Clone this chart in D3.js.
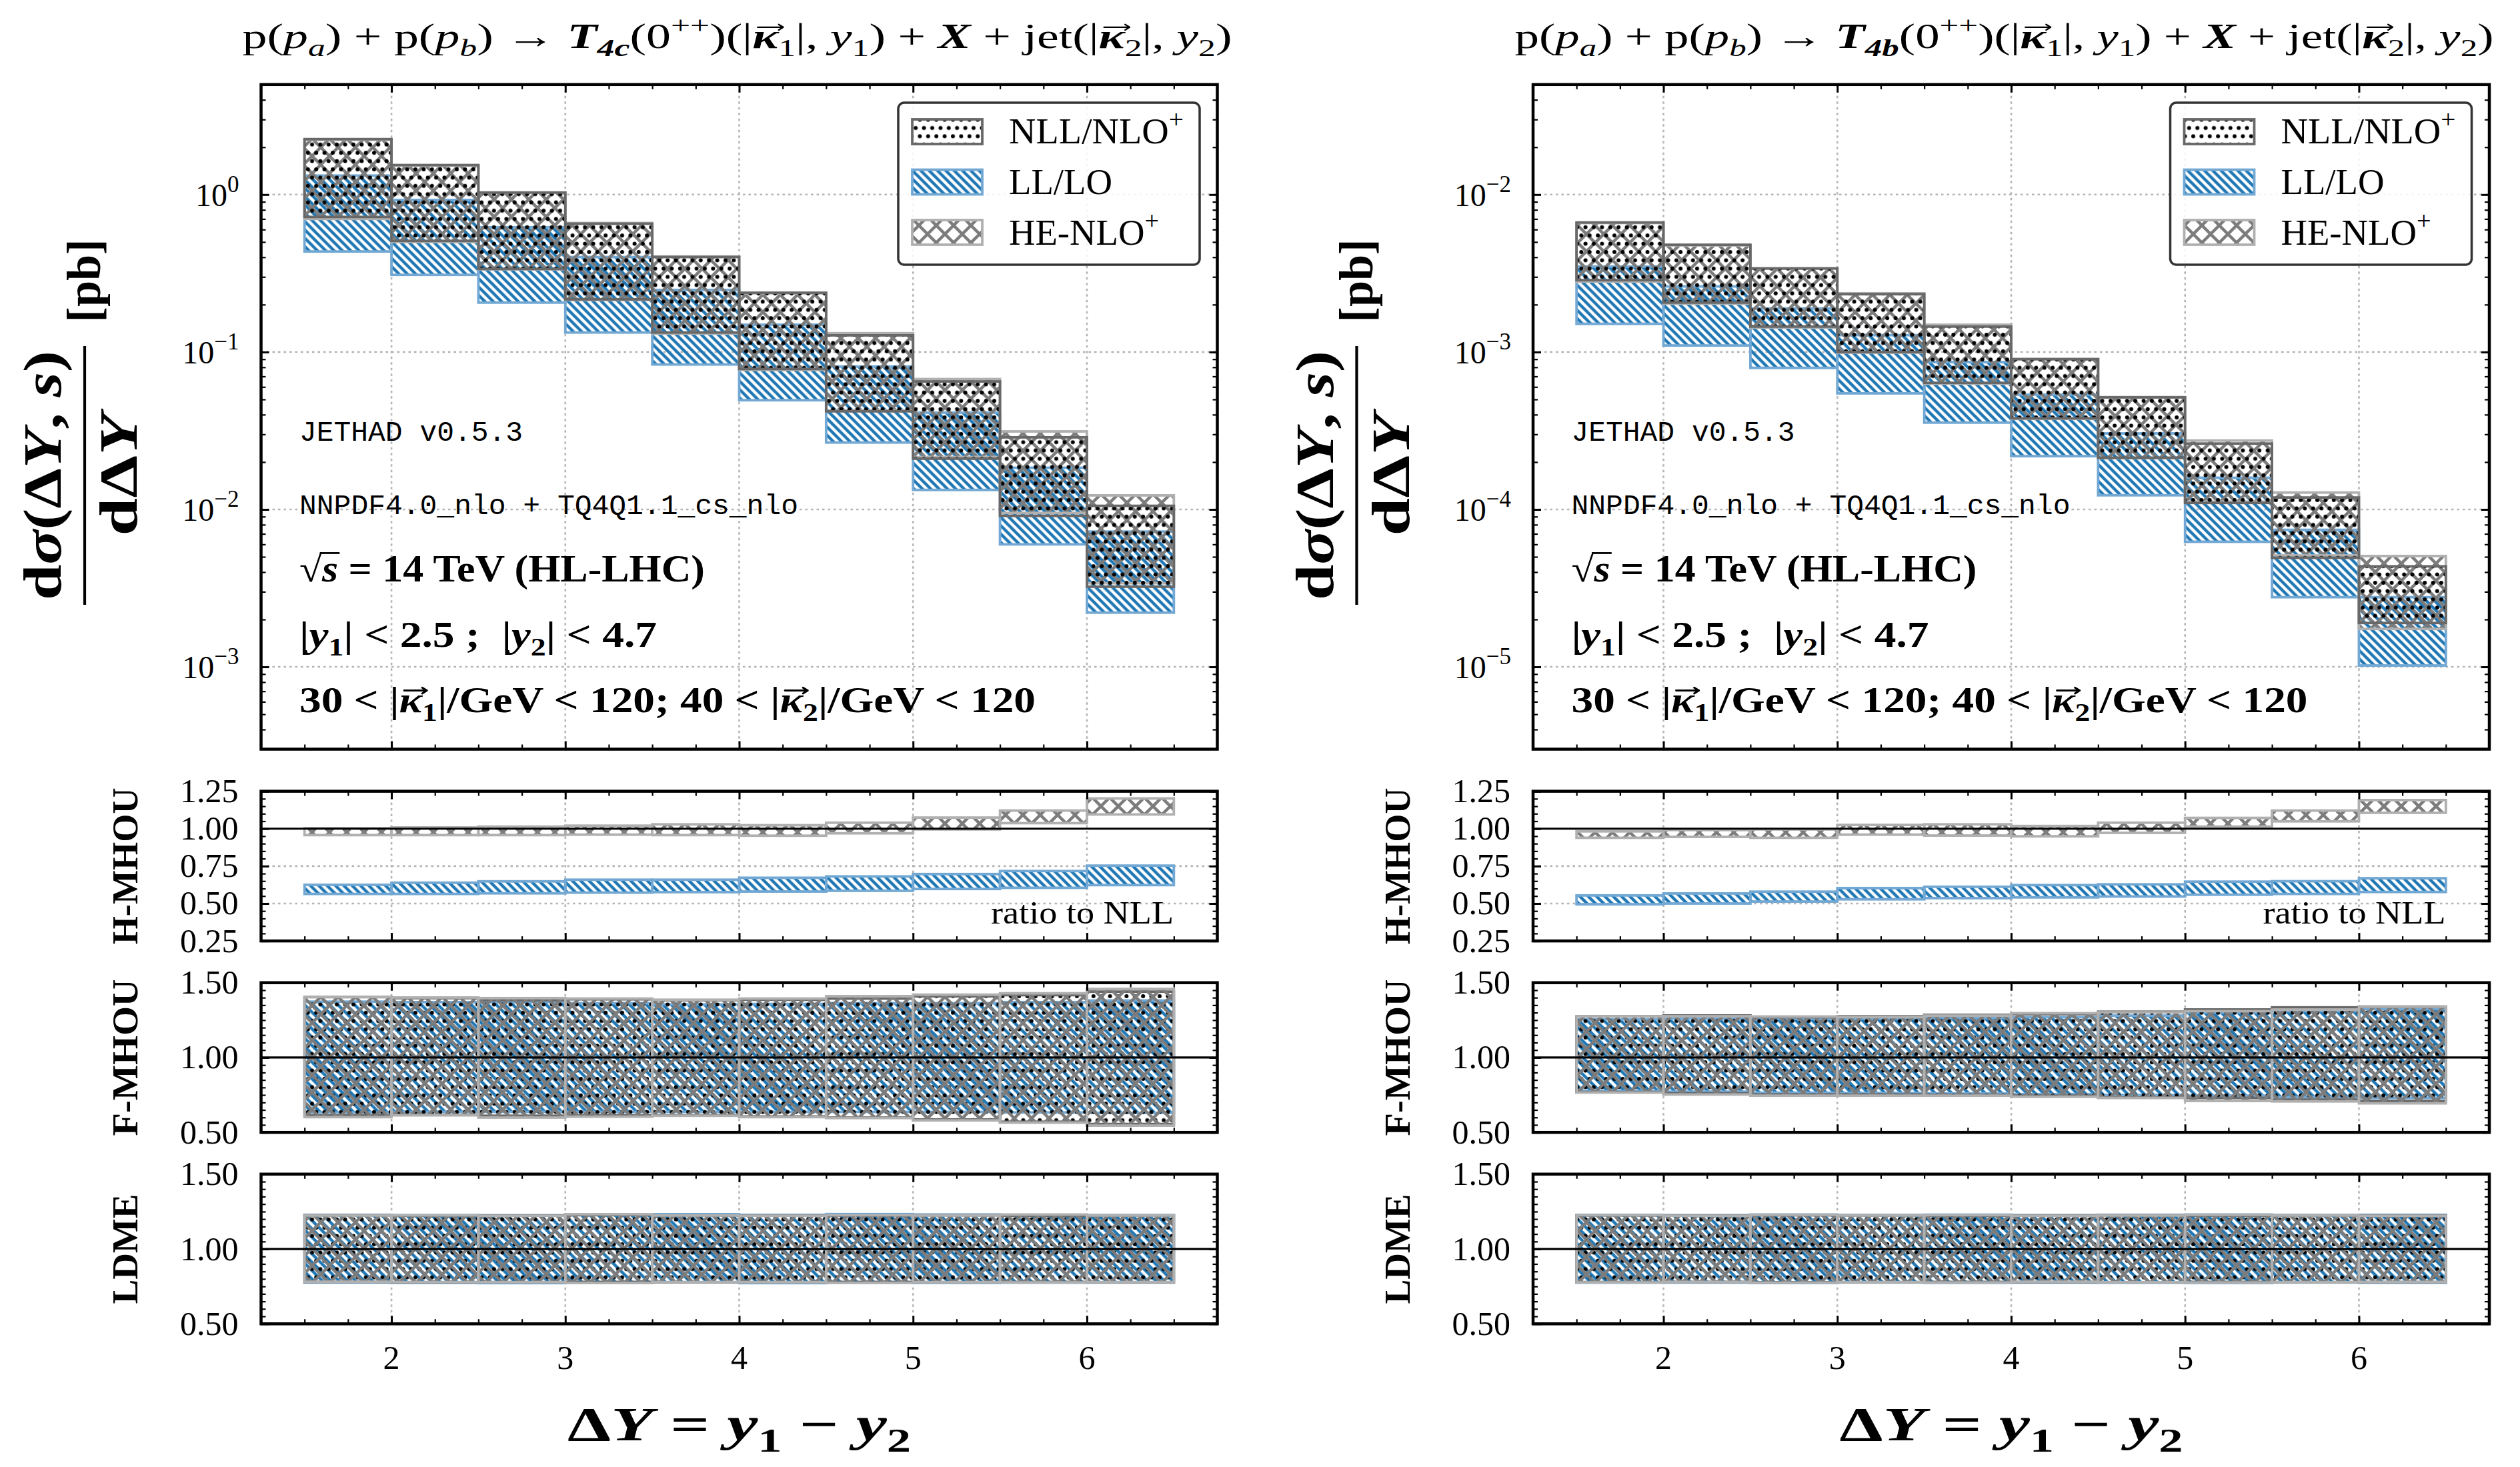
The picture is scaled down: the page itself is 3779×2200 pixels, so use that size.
<!DOCTYPE html>
<html><head><meta charset="utf-8">
<script src="https://cdn.jsdelivr.net/npm/d3@7"></script>
<style>html,body{margin:0;padding:0;background:#fff;} text{white-space:pre;}</style>
</head><body>
<svg id="chart" width="3779" height="2200" xmlns="http://www.w3.org/2000/svg"></svg>
<script>
// ---------------- DATA ----------------
const binStart = [1.5, 2.0, 2.5, 3.0, 3.5, 4.0, 4.5, 5.0, 5.5, 6.0];
const binWidth = 0.5;
const xTickValues = [2, 3, 4, 5, 6];
const xTickLabels = ["2", "3", "4", "5", "6"];
const legendNames = [["NLL/NLO", "+"], ["LL/LO", ""], ["HE-NLO", "+"]];

// T4c (left) main panel [pb]
const c_NLL_hi = [2.25, 1.54, 1.03, 0.653, 0.401, 0.238, 0.1276, 0.065, 0.0287, 0.01054];
const c_NLL_lo = [0.721, 0.508, 0.337, 0.216, 0.133, 0.078, 0.042, 0.0210, 0.0091, 0.00323];
const c_HE_hi  = [2.23, 1.53, 1.03, 0.66, 0.405, 0.236, 0.1316, 0.0673, 0.0313, 0.01228];
const c_HE_lo  = [0.70, 0.50, 0.335, 0.214, 0.131, 0.077, 0.0425, 0.0215, 0.0095, 0.0034];
const c_LL_hi  = [1.32, 0.925, 0.62, 0.401, 0.248, 0.149, 0.0809, 0.0412, 0.0184, 0.00723];
const c_LL_lo  = [0.435, 0.309, 0.206, 0.133, 0.0833, 0.0494, 0.0266, 0.0133, 0.0060, 0.00221];
// T4c H-MHOU (ratio to NLL)
const c_H_HE_hi = [1.003, 1.008, 1.014, 1.020, 1.029, 1.023, 1.040, 1.074, 1.121, 1.202];
const c_H_HE_lo = [0.957, 0.957, 0.957, 0.960, 0.957, 0.953, 0.969, 0.995, 1.037, 1.095];
const c_H_LL_hi = [0.625, 0.639, 0.648, 0.659, 0.659, 0.672, 0.681, 0.697, 0.717, 0.753];
const c_H_LL_lo = [0.564, 0.564, 0.568, 0.573, 0.576, 0.580, 0.585, 0.597, 0.605, 0.623];
// T4c F-MHOU
const c_F_NLL_hi = [1.404, 1.397, 1.383, 1.389, 1.383, 1.386, 1.394, 1.409, 1.417, 1.440];
const c_F_NLL_lo = [0.614, 0.617, 0.611, 0.614, 0.614, 0.606, 0.599, 0.586, 0.571, 0.556];
const c_F_HE_hi  = [1.404, 1.401, 1.397, 1.394, 1.386, 1.394, 1.410, 1.420, 1.429, 1.458];
const c_F_HE_lo  = [0.602, 0.614, 0.599, 0.605, 0.611, 0.602, 0.596, 0.580, 0.565, 0.545];
const c_F_LL_hi  = [1.373, 1.370, 1.370, 1.363, 1.355, 1.358, 1.363, 1.363, 1.370, 1.381];
const c_F_LL_lo  = [0.633, 0.637, 0.637, 0.637, 0.637, 0.637, 0.637, 0.637, 0.633, 0.630];
// T4c LDME
const c_L_NLL_hi = [1.225, 1.222, 1.224, 1.226, 1.224, 1.223, 1.224, 1.225, 1.222, 1.224];
const c_L_NLL_lo = [0.780, 0.778, 0.779, 0.780, 0.778, 0.779, 0.780, 0.779, 0.780, 0.778];
const c_L_HE_hi  = [1.224, 1.225, 1.222, 1.232, 1.224, 1.222, 1.226, 1.224, 1.230, 1.224];
const c_L_HE_lo  = [0.781, 0.779, 0.778, 0.773, 0.779, 0.778, 0.774, 0.778, 0.777, 0.779];
const c_L_LL_hi  = [1.228, 1.226, 1.225, 1.230, 1.232, 1.228, 1.233, 1.230, 1.228, 1.226];
const c_L_LL_lo  = [0.776, 0.774, 0.772, 0.775, 0.778, 0.772, 0.775, 0.774, 0.775, 0.776];

// T4b (right) main panel [pb]
const b_NLL_hi = [6.65e-3, 4.80e-3, 3.40e-3, 2.33e-3, 1.45e-3, 9.0e-4, 5.15e-4, 2.62e-4, 1.19e-4, 4.35e-5];
const b_NLL_lo = [2.86e-3, 2.06e-3, 1.45e-3, 1.0e-3, 6.37e-4, 3.79e-4, 2.13e-4, 1.10e-4, 4.93e-5, 1.90e-5];
const b_HE_hi  = [6.60e-3, 4.76e-3, 3.38e-3, 2.36e-3, 1.49e-3, 9.03e-4, 5.17e-4, 2.74e-4, 1.28e-4, 5.06e-5];
const b_HE_lo  = [2.80e-3, 2.03e-3, 1.43e-3, 9.9e-4, 6.30e-4, 3.76e-4, 2.12e-4, 1.12e-4, 5.10e-5, 1.74e-5];
const b_LL_hi  = [3.49e-3, 2.61e-3, 1.89e-3, 1.28e-3, 8.63e-4, 5.36e-4, 3.04e-4, 1.59e-4, 7.42e-5, 2.77e-5];
const b_LL_lo  = [1.51e-3, 1.10e-3, 7.93e-4, 5.46e-4, 3.56e-4, 2.18e-4, 1.23e-4, 6.23e-5, 2.77e-5, 1.02e-5];
// T4b H-MHOU
const b_H_HE_hi = [0.982, 0.991, 0.995, 1.025, 1.029, 1.018, 1.040, 1.072, 1.121, 1.191];
const b_H_HE_lo = [0.939, 0.945, 0.939, 0.960, 0.954, 0.949, 0.972, 1.014, 1.049, 1.106];
const b_H_LL_hi = [0.554, 0.567, 0.579, 0.603, 0.612, 0.623, 0.628, 0.646, 0.649, 0.669];
const b_H_LL_lo = [0.495, 0.500, 0.513, 0.528, 0.536, 0.541, 0.547, 0.559, 0.564, 0.577];
// T4b F-MHOU
const b_F_NLL_hi = [1.275, 1.281, 1.270, 1.275, 1.285, 1.290, 1.306, 1.321, 1.335, 1.340];
const b_F_NLL_lo = [0.769, 0.761, 0.753, 0.753, 0.750, 0.745, 0.733, 0.730, 0.719, 0.710];
const b_F_HE_hi  = [1.275, 1.276, 1.274, 1.270, 1.280, 1.296, 1.302, 1.310, 1.320, 1.340];
const b_F_HE_lo  = [0.766, 0.753, 0.745, 0.745, 0.745, 0.738, 0.730, 0.710, 0.707, 0.694];
const b_F_LL_hi  = [1.255, 1.260, 1.258, 1.260, 1.265, 1.270, 1.280, 1.300, 1.310, 1.324];
const b_F_LL_lo  = [0.776, 0.772, 0.765, 0.763, 0.760, 0.756, 0.750, 0.745, 0.735, 0.730];
// T4b LDME
const b_L_NLL_hi = [1.224, 1.223, 1.225, 1.224, 1.222, 1.224, 1.225, 1.223, 1.224, 1.224];
const b_L_NLL_lo = [0.779, 0.780, 0.778, 0.779, 0.780, 0.779, 0.778, 0.780, 0.779, 0.779];
const b_L_HE_hi  = [1.226, 1.222, 1.228, 1.224, 1.226, 1.222, 1.224, 1.228, 1.224, 1.222];
const b_L_HE_lo  = [0.777, 0.780, 0.775, 0.778, 0.776, 0.781, 0.778, 0.776, 0.778, 0.780];
const b_L_LL_hi  = [1.228, 1.226, 1.230, 1.227, 1.229, 1.226, 1.228, 1.230, 1.227, 1.228];
const b_L_LL_lo  = [0.775, 0.776, 0.773, 0.776, 0.774, 0.776, 0.775, 0.773, 0.776, 0.775];

// ---------------- STYLE / LAYOUT ----------------
const SERIF = "'Liberation Serif', 'DejaVu Serif', serif";
const MONO = "'Liberation Mono', 'DejaVu Sans Mono', monospace";
const STY = {
  NLL: {fill: "url(#pDots)", stroke: "#686868"},
  LL:  {fill: "url(#pHatch)", stroke: "#72a8d3"},
  HE:  {fill: "url(#pCross)", stroke: "#b0b0b0"}
};
const MAIN = {top: 126.8, bottom: 1123.5};
const RH = {top: 1186.6, bottom: 1411.1};
const RF = {top: 1473.7, bottom: 1698.2};
const RL = {top: 1760.8, bottom: 1985.3};

const svg = d3.select("#chart");
svg.append("rect").attr("width", 3779).attr("height", 2200).attr("fill", "#fff");
const defs = svg.append("defs");
function pat(id, w, h, build) {
  const p = defs.append("pattern").attr("id", id).attr("patternUnits", "userSpaceOnUse")
    .attr("width", w).attr("height", h);
  build(p);
}
pat("pDots", 12.4, 24.8, p => {
  p.append("circle").attr("cx", 3).attr("cy", 6).attr("r", 3.0).attr("fill", "#000");
  p.append("circle").attr("cx", 9.2).attr("cy", 18.4).attr("r", 3.0).attr("fill", "#000");
});
pat("pHatch", 12.5, 12.5, p => {
  p.append("path").attr("d", "M0,0 L12.5,12.5 M-3,9.5 L3,15.5 M9.5,-3 L15.5,3")
    .attr("stroke", "#1f77b4").attr("stroke-width", 4.5);
});
pat("pCross", 26, 26, p => {
  p.append("path").attr("d", "M0,0 L26,26 M-3,23 L3,29 M23,-3 L29,3 M0,26 L26,0 M-3,3 L3,-3 M23,29 L29,23")
    .attr("stroke", "#7c7c7c").attr("stroke-width", 4.5);
});

function seg(arr) {
  return arr.map(([t, f = ""]) => ({t, i: f.includes("i"), b: f.includes("b"), sub: f.includes("_"), sup: f.includes("^"), o: f.includes("o"), v: f.includes("v")}));
}
function rich(textSel, segs, size) {
  let cur = 0;
  segs.forEach(s => {
    let off = 0, sc = 1;
    if (s.sub) { off = 0.24 * size; sc = 0.7; }
    if (s.sup) { off = -0.42 * size; sc = 0.7; }
    const ts = textSel.append("tspan").attr("dy", (off - cur).toFixed(2)).attr("font-size", size * sc).text(s.t);
    cur = off;
    if (s.i) ts.attr("font-style", "italic");
    if (s.b) ts.attr("font-weight", "bold");
    if (s.o) ts.classed("ovl", true);
    if (s.v) ts.classed("vec", true);
  });
  return textSel;
}
function txt(x, y, opts) {
  const t = svg.append("text").attr("x", x).attr("y", y)
    .attr("font-family", opts.family || SERIF).attr("font-size", opts.size)
    .attr("text-anchor", opts.anchor || "start").attr("fill", "#000");
  if (opts.bold) t.attr("font-weight", "bold");
  if (opts.rotate) t.attr("transform", `rotate(-90)`);
  if (opts.segs) rich(t, seg(opts.segs), opts.size); else t.text(opts.text);
  if (opts.len) t.attr("textLength", opts.len).attr("lengthAdjust", "spacingAndGlyphs");
  const size = opts.size;
  t.selectAll("tspan.vec").each(function () {
    const b = this.getBBox();
    const ya = y - 0.6 * size;
    const x1 = b.x + 0.12 * b.width + 0.06 * size, x2 = b.x + b.width + 0.1 * size;
    const h = 0.1 * size;
    svg.append("path").attr("d", `M${x1},${ya} L${x2},${ya} M${x2 - h * 1.3},${ya - h * 0.8} L${x2},${ya} L${x2 - h * 1.3},${ya + h * 0.8}`)
      .attr("fill", "none").attr("stroke", "#000").attr("stroke-width", (opts.bold ? 0.055 : 0.045) * size)
      .attr("stroke-linecap", "round").attr("stroke-linejoin", "round");
  });
  t.selectAll("tspan.ovl").each(function () {
    const b = this.getBBox();
    const yo = y - 0.76 * size;
    svg.append("line").attr("x1", b.x - 0.04 * size).attr("x2", b.x + b.width + 0.04 * size).attr("y1", yo).attr("y2", yo)
      .attr("stroke", "#000").attr("stroke-width", 0.05 * size);
  });
  return t;
}

function tickAxis(g, scale, orient, values, len, width, tr) {
  const gen = {left: d3.axisLeft, right: d3.axisRight, top: d3.axisTop, bottom: d3.axisBottom}[orient];
  const a = g.append("g").attr("transform", tr).call(gen(scale).tickValues(values).tickSize(-len).tickFormat(""));
  a.select(".domain").remove();
  a.selectAll("line").attr("stroke", "#000").attr("stroke-width", width);
}

function drawPanel(o) {
  const g = svg.append("g");
  const x = d3.scaleLinear().domain([1.25, 6.75]).range([o.left, o.right]);
  const y = o.log ? d3.scaleLog().domain(o.ydom).range([o.bottom, o.top])
                  : d3.scaleLinear().domain(o.ydom).range([o.bottom, o.top]);
  const clipId = "clip" + Math.round(o.left) + "_" + Math.round(o.top);
  defs.append("clipPath").attr("id", clipId).append("rect")
    .attr("x", o.left).attr("y", o.top).attr("width", o.right - o.left).attr("height", o.bottom - o.top);
  const inner = g.append("g").attr("clip-path", `url(#${clipId})`);
  inner.append("g").selectAll("line").data(xTickValues).join("line")
    .attr("x1", d => x(d)).attr("x2", d => x(d)).attr("y1", o.top).attr("y2", o.bottom)
    .attr("stroke", "#b4b4b4").attr("stroke-width", 2.6).attr("stroke-dasharray", "3.5,5");
  inner.append("g").selectAll("line").data(o.yGrid).join("line")
    .attr("x1", o.left).attr("x2", o.right).attr("y1", d => y(d)).attr("y2", d => y(d))
    .attr("stroke", "#b4b4b4").attr("stroke-width", 2.6).attr("stroke-dasharray", "3.5,5");
  o.bands.forEach(b => {
    const rows = binStart.map((s, i) => ({s, lo: b.lo[i], hi: b.hi[i]}));
    inner.append("g").selectAll("rect").data(rows).join("rect")
      .attr("x", d => x(d.s)).attr("width", d => x(d.s + binWidth) - x(d.s))
      .attr("y", d => y(d.hi)).attr("height", d => y(d.lo) - y(d.hi))
      .attr("fill", STY[b.k].fill).attr("stroke", STY[b.k].stroke).attr("stroke-width", 3.8);
  });
  if (o.unity) inner.append("line").attr("x1", o.left).attr("x2", o.right)
    .attr("y1", y(1)).attr("y2", y(1)).attr("stroke", "#000").attr("stroke-width", 3.2);
  const xMinor = d3.range(1.5, 6.51, 0.25).filter(v => Math.abs(v - Math.round(v)) > 1e-6);
  tickAxis(g, x, "bottom", xTickValues, 12, 3, `translate(0,${o.bottom})`);
  tickAxis(g, x, "bottom", xMinor, 7, 2.2, `translate(0,${o.bottom})`);
  tickAxis(g, x, "top", xTickValues, 12, 3, `translate(0,${o.top})`);
  tickAxis(g, x, "top", xMinor, 7, 2.2, `translate(0,${o.top})`);
  tickAxis(g, y, "left", o.yMajor, 12, 3, `translate(${o.left},0)`);
  tickAxis(g, y, "left", o.yMinor, 7, 2.2, `translate(${o.left},0)`);
  tickAxis(g, y, "right", o.yMajor, 12, 3, `translate(${o.right},0)`);
  tickAxis(g, y, "right", o.yMinor, 7, 2.2, `translate(${o.right},0)`);
  g.append("rect").attr("x", o.left).attr("y", o.top).attr("width", o.right - o.left)
    .attr("height", o.bottom - o.top).attr("fill", "none").attr("stroke", "#000").attr("stroke-width", 4.5);
  if (o.log) {
    o.yMajor.forEach(v => {
      const e = Math.round(Math.log10(v));
      const t = g.append("text").attr("x", o.left - 33).attr("y", y(v) + 17).attr("text-anchor", "end")
        .attr("font-family", SERIF).attr("font-size", 48);
      t.append("tspan").text("10");
      t.append("tspan").attr("dy", -21).attr("font-size", 35).text(e === 0 ? "0" : "\u2212" + Math.abs(e));
    });
  } else {
    o.yMajor.forEach(v => {
      g.append("text").attr("x", o.left - 34).attr("y", y(v) + 16.5).attr("text-anchor", "end")
        .attr("font-family", SERIF).attr("font-size", 50).text(d3.format(".2f")(v));
    });
  }
  return {x, y, g};
}

function logMinor(d0, d1) {
  const out = [];
  for (let k = -7; k <= 2; k++) for (let m = 2; m <= 9; m++) {
    const v = m * Math.pow(10, k);
    if (v > d0 * 1.0001 && v < d1 * 0.9999) out.push(v);
  }
  return out;
}
const ratioMinorH = d3.range(0.30, 1.25, 0.05).filter(v => Math.abs(v * 4 - Math.round(v * 4)) > 1e-6);
const ratioMinorF = d3.range(0.55, 1.5, 0.05).filter(v => Math.abs(v * 2 - Math.round(v * 2)) > 1e-6);

function drawColumn(P) {
  const {left, right, dx} = P;
  drawPanel({left, right, top: MAIN.top, bottom: MAIN.bottom, log: true, ydom: P.mainDom,
    yMajor: P.decades, yMinor: logMinor(P.mainDom[0], P.mainDom[1]), yGrid: P.decades,
    bands: [{k: "LL", lo: P.LL_lo, hi: P.LL_hi}, {k: "HE", lo: P.HE_lo, hi: P.HE_hi}, {k: "NLL", lo: P.NLL_lo, hi: P.NLL_hi}]});
  drawPanel({left, right, top: RH.top, bottom: RH.bottom, log: false, ydom: [0.25, 1.25],
    yMajor: [0.25, 0.5, 0.75, 1.0, 1.25], yMinor: ratioMinorH, yGrid: [0.5, 0.75], unity: true,
    bands: [{k: "LL", lo: P.H_LL_lo, hi: P.H_LL_hi}, {k: "HE", lo: P.H_HE_lo, hi: P.H_HE_hi}]});
  drawPanel({left, right, top: RF.top, bottom: RF.bottom, log: false, ydom: [0.5, 1.5],
    yMajor: [0.5, 1.0, 1.5], yMinor: ratioMinorF, yGrid: [], unity: true,
    bands: [{k: "LL", lo: P.F_LL_lo, hi: P.F_LL_hi}, {k: "NLL", lo: P.F_NLL_lo, hi: P.F_NLL_hi}, {k: "HE", lo: P.F_HE_lo, hi: P.F_HE_hi}]});
  const last = drawPanel({left, right, top: RL.top, bottom: RL.bottom, log: false, ydom: [0.5, 1.5],
    yMajor: [0.5, 1.0, 1.5], yMinor: ratioMinorF, yGrid: [], unity: true,
    bands: [{k: "LL", lo: P.L_LL_lo, hi: P.L_LL_hi}, {k: "NLL", lo: P.L_NLL_lo, hi: P.L_NLL_hi}, {k: "HE", lo: P.L_HE_lo, hi: P.L_HE_hi}]});
  xTickValues.forEach((v, i) => {
    svg.append("text").attr("x", last.x(v)).attr("y", 2053).attr("text-anchor", "middle")
      .attr("font-family", SERIF).attr("font-size", 50).text(xTickLabels[i]);
  });
  const cx = (left + right) / 2;
  txt(cx, 2160, {size: 72, bold: true, anchor: "middle", len: 515,
    segs: [["\u0394", "b"], ["Y", "bi"], [" = ", "b"], ["y", "bi"], ["1", "b_"], [" \u2212 ", "b"], ["y", "bi"], ["2", "b_"]]});
  txt(P.titleX, 72, {size: 52, len: P.titleLen, segs: [["p(", ""], ["p", "i"], ["a", "i_"], [") + p(", ""], ["p", "i"], ["b", "i_"], [") \u2192 ", ""],
    ["T", "bi"], [P.tq, "bi_"], ["(0", ""], ["++", "^"], [")(|", ""], ["\u03BA", "biv"], ["1", "_"], ["|, ", ""], ["y", "i"], ["1", "_"],
    [") + ", ""], ["X", "bi"], [" + jet(|", ""], ["\u03BA", "biv"], ["2", "_"], ["|, ", ""], ["y", "i"], ["2", "_"], [")", ""]]});
  txt(-713, 91 + dx, {size: 80, bold: true, anchor: "middle", rotate: true, len: 374,
    segs: [["d", "b"], ["\u03C3", "bi"], ["(", "b"], ["\u0394", "b"], ["Y", "bi"], [", ", "b"], ["s", "bi"], [")", "b"]]});
  txt(-712, 205 + dx, {size: 80, bold: true, anchor: "middle", rotate: true, len: 183,
    segs: [["d", "b"], ["\u0394", "b"], ["Y", "bi"]]});
  svg.append("line").attr("x1", 127 + dx).attr("x2", 127 + dx).attr("y1", 519).attr("y2", 907)
    .attr("stroke", "#000").attr("stroke-width", 4.2);
  txt(-421, 150 + dx, {size: 72, bold: true, anchor: "middle", rotate: true, len: 125, text: "[pb]"});
  txt(-(RH.top + RH.bottom) / 2, 206 + dx, {size: 54, bold: true, anchor: "middle", rotate: true, len: 235, text: "H-MHOU"});
  txt(-(RF.top + RF.bottom) / 2, 206 + dx, {size: 54, bold: true, anchor: "middle", rotate: true, len: 235, text: "F-MHOU"});
  txt(-(RL.top + RL.bottom) / 2, 206 + dx, {size: 54, bold: true, anchor: "middle", rotate: true, len: 165, text: "LDME"});
  txt(right - 65.5, 1385, {size: 48, anchor: "end", len: 274, text: "ratio to NLL"});
  const ax = left + 57.5;
  txt(ax, 661, {size: 43, family: MONO, len: 335, text: "JETHAD v0.5.3"});
  txt(ax, 771, {size: 43, family: MONO, len: 748, text: "NNPDF4.0_nlo + TQ4Q1.1_cs_nlo"});
  txt(ax, 872, {size: 56, bold: true, len: 608, segs: [["\u221A", "b"], ["s", "bio"], [" = 14 TeV (HL-LHC)", "b"]]});
  txt(ax, 970, {size: 54, bold: true, len: 536, segs: [["|", "b"], ["y", "bi"], ["1", "b_"], ["| < 2.5 ;  |", "b"], ["y", "bi"], ["2", "b_"], ["| < 4.7", "b"]]});
  txt(ax, 1068, {size: 54, bold: true, len: 1104, segs: [["30 < |", "b"], ["\u03BA", "biv"], ["1", "b_"], ["|/GeV < 120; 40 < |", "b"], ["\u03BA", "biv"], ["2", "b_"], ["|/GeV < 120", "b"]]});
  const lx = right - 26.5 - 452, ly = 154;
  svg.append("rect").attr("x", lx).attr("y", ly).attr("width", 452).attr("height", 243).attr("rx", 9)
    .attr("fill", "#fff").attr("fill-opacity", 0.85).attr("stroke", "#333").attr("stroke-width", 3.5);
  const keys = ["NLL", "LL", "HE"];
  const lens = [262, 155, 225];
  keys.forEach((k, j) => {
    svg.append("rect").attr("x", lx + 21).attr("y", ly + 25 + j * 75.5).attr("width", 105).attr("height", 37)
      .attr("fill", STY[k].fill).attr("stroke", STY[k].stroke).attr("stroke-width", 3.8);
    const s = [[legendNames[j][0], ""]];
    if (legendNames[j][1]) s.push([legendNames[j][1], "^"]);
    txt(lx + 166, ly + 61 + j * 76, {size: 54, len: lens[j], segs: s});
  });
}

drawColumn({left: 391.5, right: 1825.5, dx: 0, mainDom: [3e-4, 5], decades: [1e-3, 1e-2, 1e-1, 1],
  tq: "4c", titleX: 363.5, titleLen: 1484,
  NLL_hi: c_NLL_hi, NLL_lo: c_NLL_lo, HE_hi: c_HE_hi, HE_lo: c_HE_lo, LL_hi: c_LL_hi, LL_lo: c_LL_lo,
  H_HE_hi: c_H_HE_hi, H_HE_lo: c_H_HE_lo, H_LL_hi: c_H_LL_hi, H_LL_lo: c_H_LL_lo,
  F_NLL_hi: c_F_NLL_hi, F_NLL_lo: c_F_NLL_lo, F_HE_hi: c_F_HE_hi, F_HE_lo: c_F_HE_lo, F_LL_hi: c_F_LL_hi, F_LL_lo: c_F_LL_lo,
  L_NLL_hi: c_L_NLL_hi, L_NLL_lo: c_L_NLL_lo, L_HE_hi: c_L_HE_hi, L_HE_lo: c_L_HE_lo, L_LL_hi: c_L_LL_hi, L_LL_lo: c_L_LL_lo});
drawColumn({left: 2299, right: 3733, dx: 1907.5, mainDom: [3e-6, 5e-2], decades: [1e-5, 1e-4, 1e-3, 1e-2],
  tq: "4b", titleX: 2271.5, titleLen: 1468,
  NLL_hi: b_NLL_hi, NLL_lo: b_NLL_lo, HE_hi: b_HE_hi, HE_lo: b_HE_lo, LL_hi: b_LL_hi, LL_lo: b_LL_lo,
  H_HE_hi: b_H_HE_hi, H_HE_lo: b_H_HE_lo, H_LL_hi: b_H_LL_hi, H_LL_lo: b_H_LL_lo,
  F_NLL_hi: b_F_NLL_hi, F_NLL_lo: b_F_NLL_lo, F_HE_hi: b_F_HE_hi, F_HE_lo: b_F_HE_lo, F_LL_hi: b_F_LL_hi, F_LL_lo: b_F_LL_lo,
  L_NLL_hi: b_L_NLL_hi, L_NLL_lo: b_L_NLL_lo, L_HE_hi: b_L_HE_hi, L_HE_lo: b_L_HE_lo, L_LL_hi: b_L_LL_hi, L_LL_lo: b_L_LL_lo});
</script>
</body></html>
